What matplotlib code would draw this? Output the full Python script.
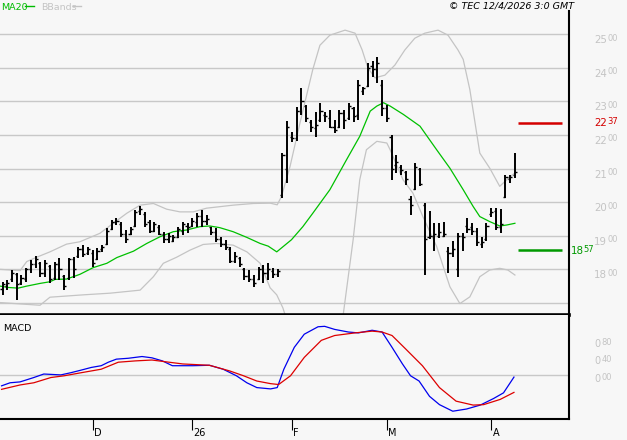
import matplotlib
matplotlib.use("Agg")
import matplotlib.pyplot as plt
import numpy as np

# ---------------- data ----------------
highs = [1763, 1768, 1798, 1789, 1783, 1804, 1828, 1840, 1823, 1828,
         1813, 1823, 1834, 1783, 1834, 1838, 1867, 1872, 1867, 1857,
         1863, 1872, 1923, 1947, 1953, 1942, 1917, 1927, 1976, 1988,
         1971, 1947, 1942, 1932, 1912, 1908, 1902, 1927, 1942, 1937,
         1953, 1967, 1976, 1962, 1927, 1923, 1897, 1887, 1867, 1852,
         1838, 1804, 1798, 1783, 1808, 1813, 1818, 1804, 1800, 2146,
         2241, 2210, 2284, 2340, 2289, 2244, 2269, 2296, 2269, 2274,
         2244, 2274, 2274, 2294, 2284, 2364, 2344, 2413, 2420, 2433,
         2364, 2289, 2201, 2141, 2111, 2092, 2017, 2116, 2103, 1997,
         1974, 1939, 1939, 1942, 1866, 1883, 1909, 1909, 1952, 1937,
         1922, 1896, 1937, 1982, 1982, 1979, 2082, 2082, 2146]
lows = [1724, 1738, 1763, 1709, 1753, 1763, 1789, 1804, 1778, 1778,
        1759, 1768, 1768, 1738, 1768, 1774, 1834, 1838, 1843, 1808,
        1828, 1852, 1872, 1917, 1932, 1897, 1878, 1902, 1927, 1961,
        1927, 1908, 1912, 1902, 1878, 1878, 1882, 1893, 1902, 1908,
        1927, 1927, 1927, 1932, 1902, 1882, 1867, 1857, 1818, 1818,
        1808, 1768, 1763, 1748, 1768, 1759, 1768, 1774, 1778, 2012,
        2058, 2180, 2183, 2259, 2239, 2210, 2195, 2239, 2239, 2220,
        2205, 2220, 2218, 2244, 2239, 2244, 2319, 2344, 2373, 2354,
        2255, 2239, 2067, 2087, 2082, 2052, 1962, 2037, 2049, 1783,
        1890, 1856, 1893, 1896, 1788, 1836, 1776, 1856, 1909, 1902,
        1870, 1863, 1883, 1957, 1917, 1907, 2012, 2057, 2072]
opens = [1740, 1750, 1770, 1785, 1760, 1770, 1800, 1815, 1820, 1790,
         1810, 1775, 1815, 1780, 1775, 1830, 1840, 1860, 1850, 1850,
         1830, 1860, 1875, 1920, 1940, 1935, 1905, 1905, 1930, 1975,
         1965, 1940, 1915, 1925, 1905, 1890, 1885, 1895, 1915, 1930,
         1930, 1940, 1960, 1945, 1925, 1910, 1890, 1875, 1860, 1825,
         1835, 1800, 1780, 1770, 1770, 1800, 1790, 1795, 1785, 2020,
         2100, 2195, 2190, 2270, 2285, 2240, 2220, 2245, 2260, 2250,
         2225, 2225, 2265, 2250, 2280, 2260, 2330, 2345, 2405, 2395,
         2350, 2280, 2195, 2110, 2105, 2090, 2010, 2040, 2100, 1990,
         1895, 1900, 1900, 1900, 1855, 1850, 1800, 1900, 1930, 1925,
         1915, 1875, 1890, 1965, 1975, 1925, 2015, 2070, 2080]
closes = [1755, 1760, 1790, 1755, 1775, 1800, 1815, 1830, 1790, 1820,
          1770, 1815, 1800, 1750, 1830, 1800, 1860, 1845, 1860, 1820,
          1855, 1865, 1915, 1940, 1945, 1905, 1890, 1920, 1970, 1980,
          1935, 1915, 1935, 1905, 1890, 1900, 1895, 1920, 1935, 1925,
          1945, 1960, 1945, 1950, 1910, 1890, 1875, 1865, 1825, 1840,
          1815, 1780, 1770, 1760, 1800, 1790, 1800, 1785, 1795, 2140,
          2225, 2190, 2270, 2300, 2250, 2225, 2230, 2270, 2255, 2225,
          2215, 2265, 2245, 2285, 2255, 2350, 2340, 2400, 2395, 2415,
          2280, 2250, 2100, 2120, 2095, 2070, 1990, 2105, 2055, 1890,
          1900, 1905, 1910, 1905, 1850, 1860, 1900, 1895, 1920, 1915,
          1880, 1880, 1930, 1970, 1925, 1935, 2075, 2075, 2090]

ma20_x = [-0.5, 1.2, 3.3, 5.1, 7.9, 10.0, 11.1, 13.5, 16.3, 19.1, 22.0, 24.1,
          27.6, 30.4, 33.2, 36.0, 38.8, 41.6, 43.7, 45.8, 48.6, 51.5, 54.3,
          56.0, 57.8, 60.9, 63.3, 65.4, 69.0, 72.5, 75.3, 77.5, 78.9, 80.3,
          81.7, 84.5, 88.0, 91.5, 94.3, 97.1, 99.2, 100.6, 102.7, 104.8,
          106.3, 108.0]
ma20_y = [1750, 1746, 1744, 1750, 1758, 1763, 1770, 1771, 1785, 1805, 1818,
          1835, 1854, 1877, 1897, 1912, 1917, 1927, 1929, 1924, 1912, 1895,
          1877, 1869, 1852, 1888, 1927, 1967, 2037, 2126, 2196, 2271, 2286,
          2296, 2286, 2261, 2226, 2156, 2101, 2037, 1987, 1957, 1942, 1929,
          1932, 1937]

bbu_x = [-0.5, 3.7, 5.1, 7.2, 10.0, 13.5, 16.3, 20.5, 24.1, 26.2, 29.0,
         31.8, 34.6, 37.4, 40.2, 43.0, 48.6, 52.9, 56.4, 57.9, 58.8, 60.6,
         62.7, 65.4, 66.9, 69.0, 72.2, 74.3, 75.8, 77.0, 78.5, 80.6, 82.7,
         84.8, 86.9, 89.0, 91.8, 93.9, 96.0, 97.1, 98.5, 100.6, 102.7,
         104.8, 106.3, 108.0]
bbu_y = [1800, 1796, 1823, 1836, 1852, 1875, 1882, 1907, 1945, 1967, 1991,
         1996, 1979, 1971, 1971, 1982, 1991, 1996, 1997, 1992, 2017, 2106,
         2236, 2395, 2467, 2497, 2512, 2503, 2453, 2400, 2370, 2378, 2408,
         2453, 2488, 2503, 2512, 2497, 2453, 2425, 2335, 2146, 2101, 2047,
         2067, 2087]

bbl_x = [-0.5, 7.9, 10.0, 17.0, 22.7, 29.0, 31.8, 33.9, 36.7, 39.5, 42.3,
         45.1, 48.6, 51.5, 54.3, 56.4, 57.8, 59.1, 61.0, 71.0, 71.8, 73.9,
         75.3, 76.7, 78.9, 81.0, 81.7, 84.4, 86.5, 88.6, 91.5, 94.3, 96.4,
         98.5, 100.6, 102.7, 104.8, 106.5, 108.0]
bbl_y = [1701, 1693, 1717, 1724, 1729, 1738, 1778, 1818, 1836, 1857, 1874,
         1877, 1872, 1852, 1818, 1745, 1724, 1685, 1600, 1600, 1664, 1888,
         2067, 2156, 2181, 2176, 2156, 2067, 2027, 1957, 1868, 1748, 1698,
         1718, 1778, 1798, 1803, 1798, 1783]

macd_x = [-0.2, 1.6, 3.7, 6.6, 8.7, 12.3, 14.4, 16.6, 18.7, 20.8, 22.3, 24.0,
          26.5, 29.4, 31.5, 33.7, 35.8, 40.1, 43.6, 46.5, 49.3, 51.5, 53.6,
          56.5, 57.9, 59.3, 61.5, 63.6, 66.5, 67.9, 70.0, 72.9, 75.0, 77.9,
          80.0, 82.1, 84.3, 86.0, 87.8, 90.0, 92.1, 94.9, 97.8, 100.7, 103.5,
          105.6, 107.8]
macd_y = [-0.25, -0.18, -0.16, -0.06, 0.02, 0.00, 0.05, 0.11, 0.17, 0.21,
          0.29, 0.36, 0.38, 0.42, 0.39, 0.32, 0.21, 0.21, 0.22, 0.13, -0.02,
          -0.18, -0.29, -0.32, -0.29, 0.13, 0.63, 0.93, 1.10, 1.11, 1.04,
          0.98, 0.96, 1.02, 0.98, 0.63, 0.25, -0.02, -0.14, -0.49, -0.68,
          -0.83, -0.78, -0.69, -0.54, -0.41, -0.05]

sig_x = [-0.2, 3.7, 6.6, 10.2, 13.0, 16.6, 20.8, 24.4, 28.0, 31.5, 35.1,
         38.0, 43.6, 47.9, 50.8, 53.6, 56.5, 58.2, 60.7, 63.6, 67.2, 70.0,
         74.3, 77.9, 80.0, 82.1, 85.0, 88.5, 92.1, 95.6, 99.2, 101.4, 104.9,
         107.8]
sig_y = [-0.33, -0.23, -0.18, -0.06, -0.02, 0.05, 0.13, 0.29, 0.32, 0.34,
         0.29, 0.25, 0.22, 0.09, -0.02, -0.14, -0.20, -0.22, -0.02, 0.40,
         0.79, 0.90, 0.96, 1.00, 0.98, 0.90, 0.59, 0.21, -0.29, -0.60,
         -0.69, -0.68, -0.56, -0.40]

price_ticks = [1800, 1900, 2000, 2100, 2200, 2300, 2400, 2500]
macd_ticks = [0.0, 0.4, 0.8]
macd_tick_labels = ["000", "040", "080"]
month_ticks = [19, 40, 61, 81, 103]
month_labels = ["D", "26", "F", "M", "A"]
resistance = 2237
support = 1857

# ---------------- figure ----------------
W, H = 627, 440
BG = "#f7f7f7"
GRID = "#c8c8c8"
fig = plt.figure(figsize=(W / 100, H / 100), dpi=100, facecolor=BG)

def px_axes(x0, y0, x1, y1):
    return fig.add_axes([x0 / W, 1 - y1 / H, (x1 - x0) / W, (y1 - y0) / H])

ax = px_axes(0, 11, 569, 315)
ax2 = px_axes(0, 315, 569, 419)
XL = (-0.53, 119.4)
for a in (ax, ax2):
    a.set_facecolor(BG)
    a.set_xlim(*XL)
    a.spines["top"].set_visible(False)
    a.spines["left"].set_visible(False)
    a.spines["right"].set_linewidth(1.5)
ax.spines["bottom"].set_linewidth(2.6)
ax2.spines["bottom"].set_linewidth(1.5)

ax.set_ylim(1664, 2569)
ax2.set_ylim(-1.008, 1.369)

# gridlines
for p in price_ticks + [1700]:
    ax.axhline(p, color=GRID, lw=1.0, zorder=0)
ax2.axhline(0, color=GRID, lw=1.0, zorder=0)

# bollinger + MA
ax.plot(bbu_x, bbu_y, color="#c4c4c4", lw=0.9, zorder=1)
ax.plot(bbl_x, bbl_y, color="#c4c4c4", lw=0.9, zorder=1)
ax.plot(ma20_x, ma20_y, color="#00c000", lw=0.9, zorder=2)

# OHLC bars
idx = np.arange(len(highs))
ax.vlines(idx, lows, highs, color="black", lw=1.4, zorder=3)
ax.hlines(opens, idx - 0.45, idx, color="black", lw=1.0, zorder=3)
ax.hlines(closes, idx, idx + 0.45, color="black", lw=1.0, zorder=3)

# support / resistance
ax.hlines([resistance], 108.6, 117.9, color="#d40000", lw=1.8, zorder=3)
ax.hlines([support], 108.6, 117.9, color="#009900", lw=1.8, zorder=3)

ax.set_xticks([])
ax.set_yticks([])
ax2.set_yticks([])

# MACD
ax2.plot(macd_x, macd_y, color="#0000ee", lw=0.9)
ax2.plot(sig_x, sig_y, color="#dd0000", lw=0.9)

# x ticks
ax2.set_xticks(month_ticks)
ax2.set_xticklabels([])
ax2.tick_params(axis="x", direction="out", length=8, width=0.8, color="black")
for t, lab in zip(month_ticks, month_labels):
    ax2.annotate(lab, xy=(t, 0), xycoords=("data", "axes fraction"),
                 xytext=(1.0, -10.3), textcoords="offset points",
                 fontsize=7, ha="left", va="center", color="black",
                 annotation_clip=False)

# price labels (big + small digits)
def split_label(a, value, text, color, x_px, dy_pt=-4.3, big=7.4, small=6.0):
    xf = x_px / 569
    a.annotate(text[:2], xy=(xf, value), xycoords=("axes fraction", "data"),
               xytext=(0, dy_pt), textcoords="offset points",
               fontsize=big, color=color, ha="left", va="center",
               annotation_clip=False)
    a.annotate(text[2:], xy=(xf, value), xycoords=("axes fraction", "data"),
               xytext=(big * 1.27, dy_pt + 1.4), textcoords="offset points",
               fontsize=small, color=color, ha="left", va="center",
               annotation_clip=False)

for p in price_ticks:
    split_label(ax, p, str(p), "#c4c4c4", 594)
split_label(ax, resistance, str(resistance), "#d40000", 594, dy_pt=-0.6)
split_label(ax, support, str(support), "#009900", 570.5, dy_pt=-0.6)

for v, lab in zip(macd_ticks, macd_tick_labels):
    ax2.annotate(lab[0], xy=(594 / 569, v), xycoords=("axes fraction", "data"),
                 xytext=(0, -2.8), textcoords="offset points", fontsize=7.0,
                 color="#c4c4c4", ha="left", va="center", annotation_clip=False)
    ax2.annotate(lab[1:], xy=(594 / 569, v), xycoords=("axes fraction", "data"),
                 xytext=(5.6, -1.8), textcoords="offset points", fontsize=6.0,
                 color="#c4c4c4", ha="left", va="center", annotation_clip=False)

ax2.text(3 / 569, 0.875, "MACD", transform=ax2.transAxes, fontsize=6.8,
         ha="left", va="center", color="black")

# header
fig.text(1 / W, 1 - 7 / H, "MA20", color="#00bb00", fontsize=6.8,
         ha="left", va="center")
fig.lines.append(plt.Line2D([25 / W, 34 / W], [1 - 6 / H, 1 - 6 / H],
                            color="#00bb00", lw=1.0, transform=fig.transFigure))
fig.text(41 / W, 1 - 7 / H, "BBands", color="#c4c4c4", fontsize=6.8,
         ha="left", va="center")
fig.lines.append(plt.Line2D([73 / W, 81 / W], [1 - 6 / H, 1 - 6 / H],
                            color="#c4c4c4", lw=1.0, transform=fig.transFigure))
fig.text(574 / W, 1 - 6 / H, "© TEC 12/4/2026 3:0 GMT", color="black",
         fontsize=6.8, style="italic", ha="right", va="center")

fig.savefig("out.png", dpi=100, facecolor=BG)
